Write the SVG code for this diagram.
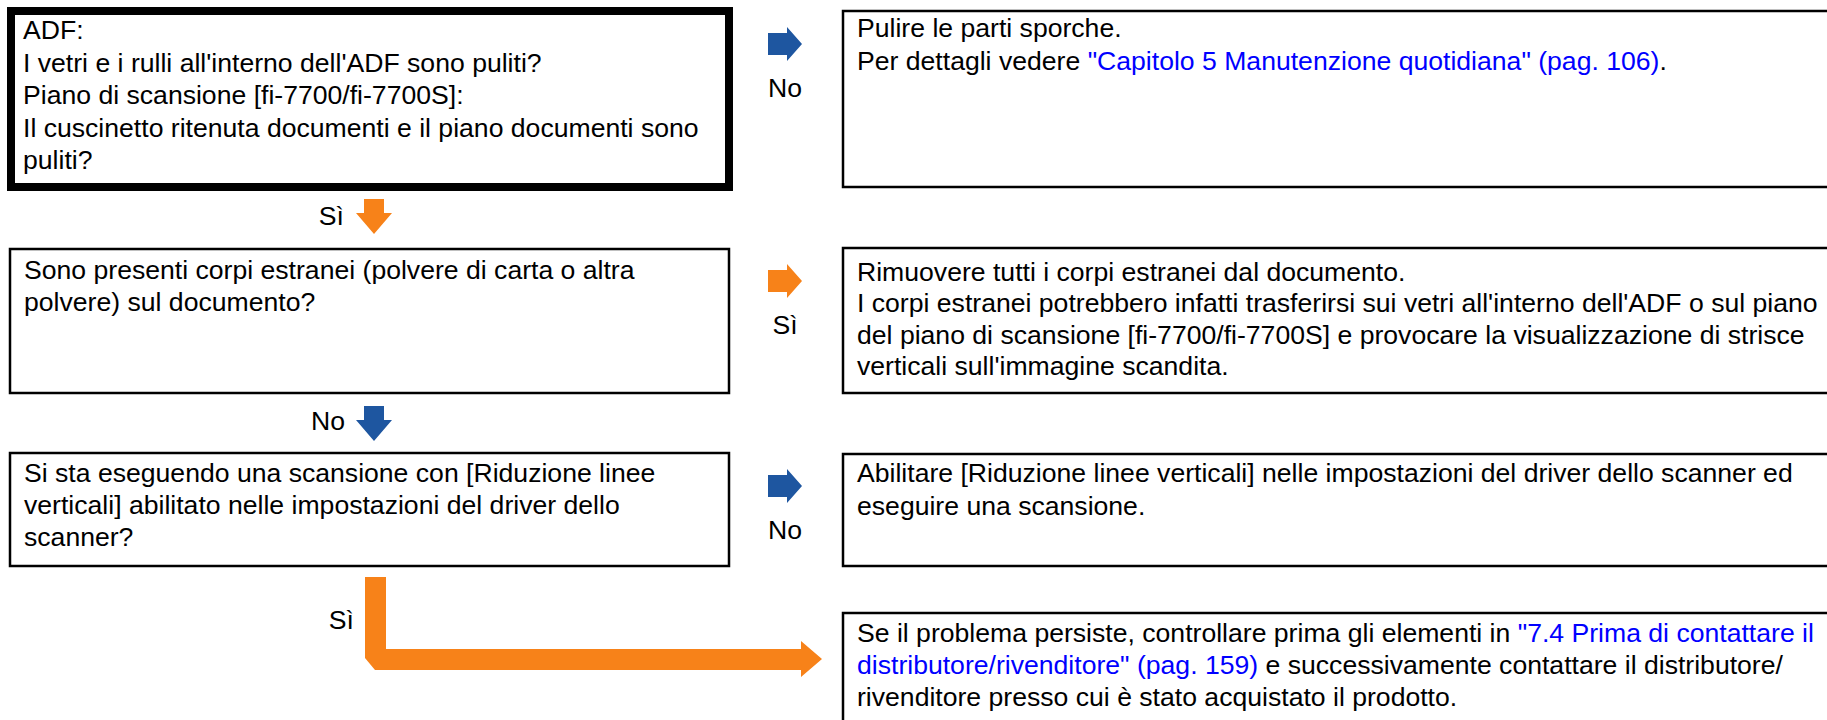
<svg xmlns="http://www.w3.org/2000/svg" width="1827" height="720" viewBox="0 0 1827 720">
<style>
.box{fill:#fff;stroke:#000;stroke-width:2.5}
.thick{fill:#fff;stroke:#000;stroke-width:8}
.t{font-family:"Liberation Sans",Arial,sans-serif;font-size:26.6px;fill:#000}
.lnk{fill:#0000FF}
.blue{fill:#1E56A0}
.orange{fill:#F78219}
</style>
<defs>
<path id="arR" d="M0,-11 H19 V-17 L34,0 L19,17 V11 H0 Z"/>
<path id="arD" d="M-10,0 H10 V14 H18 L0,35 L-18,14 H-10 Z"/>
</defs>
<rect width="1827" height="720" fill="#fff"/>

<g id="q1">
<rect class="thick" x="11" y="11" width="718" height="176"/>
<text class="t"><tspan x="23" y="39">ADF:</tspan><tspan x="23" y="71.5">I vetri e i rulli all'interno dell'ADF sono puliti?</tspan><tspan x="23" y="104">Piano di scansione [fi-7700/fi-7700S]:</tspan><tspan x="23" y="136.5">Il cuscinetto ritenuta documenti e il piano documenti sono</tspan><tspan x="23" y="169">puliti?</tspan></text>
</g>

<g id="a1">
<rect class="box" x="843" y="11" width="1000" height="176"/>
<text class="t"><tspan x="857" y="37">Pulire le parti sporche.</tspan><tspan x="857" y="70">Per dettagli vedere <tspan class="lnk">"Capitolo 5 Manutenzione quotidiana" (pag. 106)</tspan>.</tspan></text>
</g>

<g id="q2">
<rect class="box" x="10" y="249" width="719" height="144"/>
<text class="t"><tspan x="24" y="279">Sono presenti corpi estranei (polvere di carta o altra</tspan><tspan x="24" y="311">polvere) sul documento?</tspan></text>
</g>

<g id="a2">
<rect class="box" x="843" y="248" width="1000" height="145"/>
<text class="t"><tspan x="857" y="281">Rimuovere tutti i corpi estranei dal documento.</tspan><tspan x="857" y="312">I corpi estranei potrebbero infatti trasferirsi sui vetri all'interno dell'ADF o sul piano</tspan><tspan x="857" y="344">del piano di scansione [fi-7700/fi-7700S] e provocare la visualizzazione di strisce</tspan><tspan x="857" y="375">verticali sull'immagine scandita.</tspan></text>
</g>

<g id="q3">
<rect class="box" x="10" y="453" width="719" height="113"/>
<text class="t"><tspan x="24" y="482">Si sta eseguendo una scansione con [Riduzione linee</tspan><tspan x="24" y="514">verticali] abilitato nelle impostazioni del driver dello</tspan><tspan x="24" y="546">scanner?</tspan></text>
</g>

<g id="a3">
<rect class="box" x="843" y="454" width="1000" height="112"/>
<text class="t"><tspan x="857" y="482">Abilitare [Riduzione linee verticali] nelle impostazioni del driver dello scanner ed</tspan><tspan x="857" y="515">eseguire una scansione.</tspan></text>
</g>

<g id="a4">
<rect class="box" x="843" y="613" width="1000" height="200"/>
<text class="t"><tspan x="857" y="642">Se il problema persiste, controllare prima gli elementi in <tspan class="lnk">"7.4 Prima di contattare il</tspan></tspan><tspan x="857" y="674"><tspan class="lnk">distributore/rivenditore" (pag. 159)</tspan> e successivamente contattare il distributore/</tspan><tspan x="857" y="706">rivenditore presso cui è stato acquistato il prodotto.</tspan></text>
</g>

<g id="connectors">
<use href="#arR" class="blue" x="768" y="44"/>
<text class="t" x="785" y="97" text-anchor="middle">No</text>
<use href="#arD" class="orange" x="374" y="199"/>
<text class="t" x="344" y="225" text-anchor="end">Sì</text>
<use href="#arR" class="orange" x="768" y="281"/>
<text class="t" x="785" y="334" text-anchor="middle">Sì</text>
<use href="#arD" class="blue" x="374" y="406"/>
<text class="t" x="345" y="430" text-anchor="end">No</text>
<use href="#arR" class="blue" x="768" y="486"/>
<text class="t" x="785" y="539" text-anchor="middle">No</text>
<polygon class="orange" points="365,577 386,577 386,649 801,649 801,641 822,659 801,677 801,670 375,670 365,658"/>
<text class="t" x="354" y="629" text-anchor="end">Sì</text>
</g>
</svg>
